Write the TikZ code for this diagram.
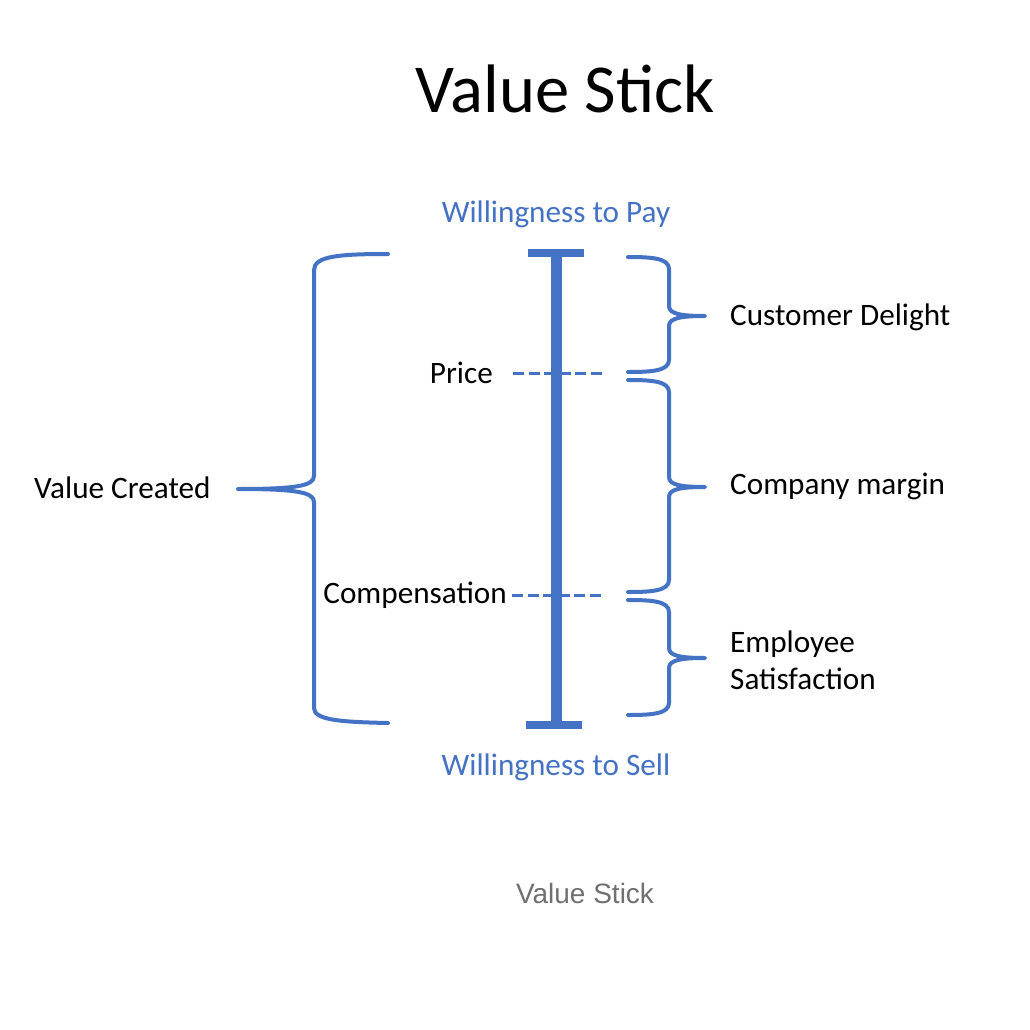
\documentclass[tikz,border=0pt]{standalone}
\usepackage{fontspec}
\setmainfont{Carlito}
\newfontfamily\capfont{Liberation Sans}
\definecolor{vblue}{HTML}{4472C4}
\definecolor{capgray}{HTML}{707070}
\newcommand\RBrace[6]{%
 \draw[bracestyle] (#1,#4) .. controls ({#2-18},#4) and (#2,{#4+1}) .. (#2,{#4+12})
  -- (#2,{#5-10}) .. controls (#2,{#5-2}) and ({#2+12},#5) .. (#3,#5)
  .. controls ({#2+12},#5) and (#2,{#5+2}) .. (#2,{#5+10})
  -- (#2,{#6-12}) .. controls (#2,{#6-1}) and ({#2-18},#6) .. (#1,#6);}
\begin{document}
\begin{tikzpicture}[x=1pt,y=-1pt,
  bracestyle/.style={draw=vblue,line width=4pt,line cap=round,line join=round},
  lbl/.style={font=\fontsize{31.2}{37}\selectfont,inner sep=0pt},
  bluelbl/.style={lbl,text=vblue},
  dashline/.style={draw=vblue,line width=3pt,dash pattern=on 11pt off 4.5pt}]
\useasboundingbox[fill=white] (0,0) rectangle (1030,1030);
% title
\node[inner sep=0pt,font=\fontsize{68.6}{80}\selectfont] (title) at (565,89) {Value Stick};
\node[bluelbl] (wtp) at (556,214) {Willingness to Pay};
\node[bluelbl] (wts) at (556,767) {Willingness to Sell};
% stick
\coordinate (stop) at (556,253);
\coordinate (sbot) at (556,725);
\draw[vblue,line width=11pt] (stop) -- (sbot);
\fill[vblue] (528,249) rectangle (584,257);
\fill[vblue] (526,721) rectangle (582,729);
% price and compensation
\node[lbl,anchor=east] (price) at (493,373) {Price};
\node[lbl,anchor=east] (comp) at (507,595) {Compensation};
\coordinate (pr) at (603,373);
\coordinate (cr) at (603,595);
\draw[dashline] (513,373) -- (pr);
\draw[dashline] (512,595) -- (cr);
% left brace
\draw[bracestyle] (388,254) .. controls (340,254) and (314,256) .. (314,270)
  -- (314,476) .. controls (314,486) and (295,489) .. (238,489)
  .. controls (295,489) and (314,492) .. (314,502)
  -- (314,708) .. controls (314,720) and (340,722) .. (388,723);
\node[lbl,anchor=west] (vc) at (34,488) {Value Created};
% right braces
\RBrace{628}{669}{705}{257}{316}{372}
\RBrace{628}{669}{705}{380}{487}{592}
\RBrace{628}{669}{705}{600}{658}{715}
\node[lbl,anchor=west] (cd) at (730,317) {Customer Delight};
\node[lbl,anchor=west] (cm) at (730,486) {Company margin};
\node[lbl,anchor=west,align=left] (es) at (730,660) {Employee\\Satisfaction};
% caption
\node[inner sep=0pt,text=capgray,font=\capfont\fontsize{28}{34}\selectfont] (cap) at (585,893) {Value Stick};
\end{tikzpicture}
\end{document}
